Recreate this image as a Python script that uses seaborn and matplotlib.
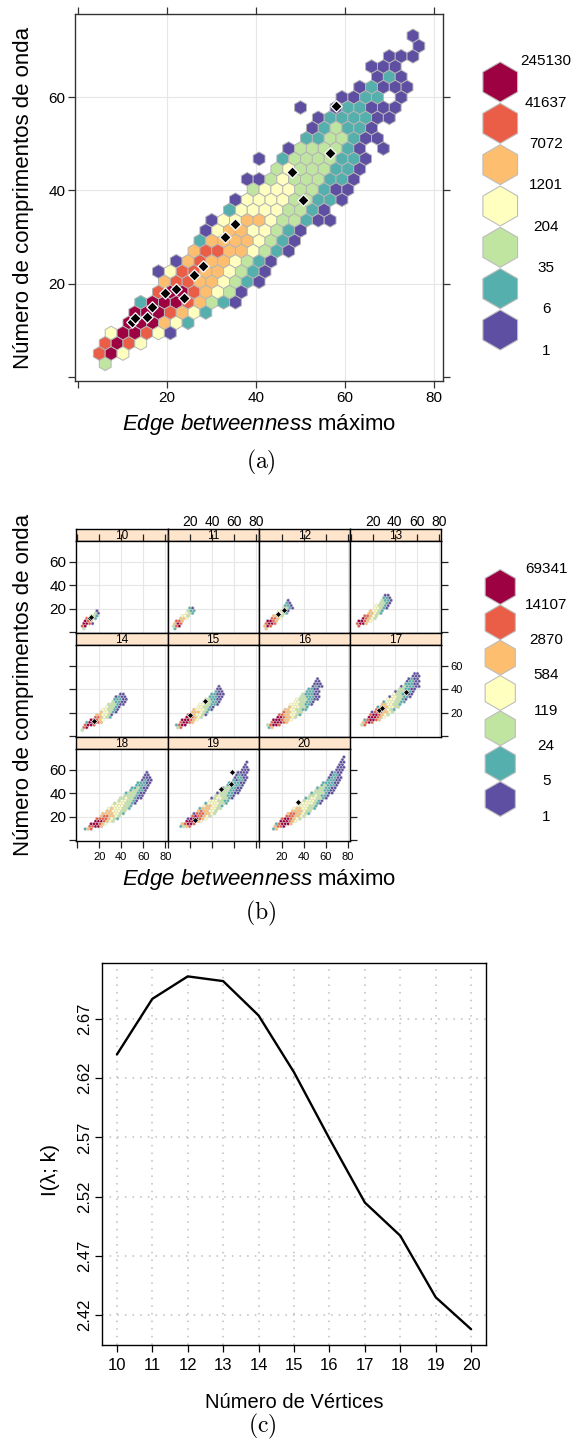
import numpy as np
import pandas as pd
import matplotlib
matplotlib.use("Agg")
import matplotlib.pyplot as plt
from matplotlib.colors import ListedColormap, BoundaryNorm
import seaborn as sns

sns.set_theme(style="white")
plt.rcParams['font.family'] = ['Liberation Sans', 'DejaVu Sans']
plt.rcParams['mathtext.fontset'] = 'custom'
plt.rcParams['mathtext.rm'] = 'Liberation Sans'
plt.rcParams['mathtext.it'] = 'Liberation Sans:italic'
for key in ('text.color', 'axes.labelcolor', 'xtick.color', 'ytick.color'):
    plt.rcParams[key] = 'black'

# ------------------------------------------------------------------ data
# count classes (1 = fewest ... 7 = most) and the class limits of each legend
legend_a = [1, 6, 35, 204, 1201, 7072, 41637, 245130]
legend_b = [1, 5, 24, 119, 584, 2870, 14107, 69341]
class_colors = ['#5E4FA2', '#55AFAD', '#BFE5A0', '#FFFFBF', '#FDBF6F', '#EA5D47', '#9E0142']

# hexagon lattice (data units): column step, row step, origin
HEX_X0, HEX_DX = 6.09, 2.66
HEX_Y0, HEX_DY = 2.89, 2.195

# all graphs: (row, first column, count class per cell; '.' = empty)
rows_all = [
    (0, 0, "3"), (1, 0, "674"), (2, 0, "6764"), (3, 1, "477641"),
    (4, 2, "777542"), (5, 3, "7776542"), (6, 3, "277765321"),
    (7, 5, "67765431"), (8, 5, "566554321"), (9, 5, "1466554321"),
    (10, 6, "156554321"), (11, 8, "566554321"), (12, 8, "255554321"),
    (13, 9, "145544321"), (14, 9, "14455433211"), (15, 11, "244443321"),
    (16, 11, "1444433221"), (17, 13, "344433211"), (18, 12, "1134333221"),
    (19, 15, "34333221"), (20, 13, "1.23333221"), (21, 16, "1333321.1"),
    (22, 17, "2233211"), (23, 18, "123221"), (24, 18, "1222211"),
    (25, 17, "1..122111"), (26, 20, "1122.1"), (27, 22, "12111"),
    (28, 23, "121"), (29, 23, "111"), (30, 24, "111"), (31, 27, "1"),
    (32, 26, "1"),
]

# one panel per number of vertices
rows_by_n = {
    10: [(0, 0, "3"), (1, 0, "67"), (2, 0, "7761"), (3, 1, "765"), (4, 1, "6542"),
         (5, 3, "432"), (6, 4, "31"), (7, 5, "1")],
    11: [(0, 0, "2"), (1, 0, "367"), (2, 0, "576"), (3, 1, "665"), (4, 2, "554"),
         (5, 3, "443"), (6, 4, "432"), (7, 5, "322"), (8, 5, "21")],
    12: [(0, 0, "5"), (1, 0, "576"), (2, 0, "6776"), (3, 1, "7765"), (4, 2, "6654"),
         (5, 3, "5543"), (6, 4, "4432"), (7, 5, "4331"), (8, 6, "3321"),
         (9, 7, "221"), (10, 7, "21"), (11, 8, "1")],
    13: [(1, 1, "6"), (2, 0, "6775"), (3, 1, "77654"), (4, 2, "76543"), (5, 3, "66543"),
         (6, 4, "55432"), (7, 5, "54432"), (8, 6, "44321"), (9, 7, "43321"),
         (10, 8, "3321"), (11, 9, "3221"), (12, 9, "221"), (13, 10, "11")],
    14: [(1, 0, "3"), (2, 0, "67"), (3, 1, "6776"), (4, 1, "277765"), (5, 3, "77654"),
         (6, 4, "665432"), (7, 5, "554431"), (8, 6, "544321"), (9, 7, "443321"),
         (10, 8, "43321"), (11, 9, "333211"), (12, 10, "32211"), (13, 11, "22211"),
         (14, 11, "1211"), (15, 13, "11")],
    15: [(2, 1, "36"), (3, 1, "2677"), (4, 2, "67765"), (5, 3, "777654"),
         (6, 4, "766543"), (7, 5, "6654431"), (8, 6, "555432"), (9, 7, "5444321"),
         (10, 8, "443321"), (11, 9, "4433221"), (12, 10, "333221"), (13, 11, "332211"),
         (14, 12, "22211"), (15, 13, "22111"), (16, 14, "211"), (17, 15, "11"),
         (18, 15, "1")],
    16: [(2, 1, "25"), (3, 1, "36776"), (4, 2, "677765"), (5, 3, "7776554"),
         (6, 4, "7765543"), (7, 5, "66554432"), (8, 6, "6554433"), (9, 7, "55443322"),
         (10, 8, "5444332"), (11, 9, "44433221"), (12, 10, "4433221"),
         (13, 11, "43332211"), (14, 12, "3322211"), (15, 13, "322211"),
         (16, 14, "22211"), (17, 15, "2211"), (18, 16, "1211"), (19, 17, "111"),
         (20, 17, "11"), (21, 18, "1")],
    17: [(3, 2, "36"), (4, 2, "5676"), (5, 3, "267765"), (6, 4, "777654"),
         (7, 5, "6776543"), (8, 5, "16665543"), (9, 7, "6655432"), (10, 7, "25554433"),
         (11, 9, "5544332"), (12, 9, "24443322"), (13, 11, "4443321"),
         (14, 11, "14433221"), (15, 13, "4332211"), (16, 13, "1333221"),
         (17, 15, "332211"), (18, 15, "1322211"), (19, 17, "22211"), (20, 17, "12211"),
         (21, 18, "1211"), (22, 19, "111"), (23, 20, "11")],
    18: [(3, 1, "256"), (4, 2, "66775"), (5, 3, "777654"), (6, 4, "7776543"),
         (7, 5, "66665432"), (8, 6, "5665543"), (9, 7, "55554432"), (10, 8, "5544433"),
         (11, 9, "45444332"), (12, 10, "4444332"), (13, 11, "34443321"),
         (14, 12, "3443321"), (15, 13, "33433211"), (16, 14, "3333211"),
         (17, 15, "2333211"), (18, 16, "233221"), (19, 17, "223211"), (20, 18, "22221"),
         (21, 19, "22211"), (22, 20, "1211"), (23, 21, "111"), (24, 21, "11"),
         (25, 22, "1")],
    19: [(4, 2, "2356"), (5, 3, "56776"), (6, 4, "777654"), (7, 5, "1777654"),
         (8, 6, "6766543"), (9, 7, "16665543"), (10, 8, "5655443"), (11, 9, "25554433"),
         (12, 10, "4554432"), (13, 11, "24444332"), (14, 12, "4443322"),
         (15, 13, "13443321"), (16, 14, "3433221"), (17, 15, "13332211"),
         (18, 16, "3332211"), (19, 17, "2332211"), (20, 18, "232221"), (21, 19, "222211"),
         (22, 20, "21221"), (23, 21, "12211"), (24, 21, "1211"), (25, 22, "1111"),
         (26, 23, "111"), (27, 24, "11"), (28, 24, "1"), (29, 25, "1")],
    20: [(3, 3, "25"), (4, 3, "5667"), (5, 4, "267775"), (6, 5, "777654"),
         (7, 6, "6776543"), (8, 7, "6665543"), (9, 8, "56655432"), (10, 9, "5555433"),
         (11, 10, "45544332"), (12, 11, "4444332"), (13, 12, "34444321"),
         (14, 13, "3444321"), (15, 14, "23443321"), (16, 15, "3343221"),
         (17, 16, "23333211"), (18, 17, "3332211"), (19, 18, "2332211"),
         (20, 19, "232221"), (21, 20, "222211"), (22, 21, "22211"), (23, 22, "12211"),
         (24, 22, "1221"), (25, 23, "1211"), (26, 24, "111"), (27, 25, "111"),
         (28, 25, "11"), (29, 26, "11"), (30, 26, "1"), (31, 27, "1")],
}

# highlighted graphs (black diamonds): vertex count, max edge betweenness, wavelengths
diam_n = [10, 10, 12, 12, 14, 15, 15, 17, 17, 17, 19, 19, 19, 19, 20]
diam_x = [12.15, 12.7, 16.5, 22.0, 15.4, 19.55, 33.1, 26.0, 28.1, 50.5, 23.9, 48.0, 56.6, 57.9, 35.2]
diam_y = [11.8, 12.7, 15.1, 18.9, 12.9, 18.1, 30.05, 21.9, 23.9, 38.0, 17.0, 44.0, 48.0, 58.1, 32.9]

# mutual information vs. number of vertices
vertices = [10, 11, 12, 13, 14, 15, 16, 17, 18, 19, 20]
info = [2.640, 2.687, 2.706, 2.702, 2.673, 2.625, 2.569, 2.515, 2.487, 2.435, 2.408]
yticks_c = [2.42, 2.47, 2.52, 2.57, 2.62, 2.67]

# ------------------------------------------------------------------ helpers
W, H = 582, 1448
fig = plt.figure(figsize=(W / 100, H / 100), dpi=100)

def px_axes(x0, y0, x1, y1):
    return fig.add_axes([x0 / W, 1 - y1 / H, (x1 - x0) / W, (y1 - y0) / H])

def cells(rows):
    recs = []
    for r, k0, s in rows:
        for j, ch in enumerate(s):
            if ch == '.':
                continue
            k = k0 + j
            recs.append((HEX_X0 + HEX_DX * (k - 0.5 * (r % 2)), HEX_Y0 + HEX_DY * r, int(ch)))
    return pd.DataFrame(recs, columns=['x', 'y', 'classe'])

cmap = ListedColormap(class_colors)
norm = BoundaryNorm(np.arange(0.5, 8.5, 1.0), cmap.N)
NX, NY = 30, 17

def draw_hex(ax, df, lw, ec):
    ax.hexbin(df['x'], df['y'], C=df['classe'], gridsize=(NX, NY),
              extent=(HEX_X0 - HEX_DX, HEX_X0 - HEX_DX + NX * HEX_DX,
                      HEX_Y0, HEX_Y0 + NY * 2 * HEX_DY),
              reduce_C_function=np.max, cmap=cmap, norm=norm,
              edgecolors=ec, linewidths=lw, mincnt=1, zorder=2)

def frame(ax, color='#1a1a1a', lw=1.0):
    for sp in ax.spines.values():
        sp.set_visible(True)
        sp.set_color(color)
        sp.set_linewidth(lw)

def lattice_grid(ax):
    for v in (20, 40, 60, 80):
        ax.axvline(v, color='#E6E6E6', lw=0.8, zorder=0.5)
    for v in (20, 40, 60):
        ax.axhline(v, color='#E6E6E6', lw=0.8, zorder=0.5)

XLIM, YLIM = (-0.7, 82.0), (-0.8, 77.8)
XT, XTL = [0, 20, 40, 60, 80], ['', '20', '40', '60', '80']
YT, YTL = [0, 20, 40, 60], ['', '20', '40', '60']

def hex_legend(x0, y0, x1, y1, limits, size):
    lax = px_axes(x0, y0, x1, y1)
    lax.set_axis_off()
    n = len(class_colors)
    sns.scatterplot(x=[0.27] * n, y=list(range(n)), hue=list(range(n)),
                    palette=class_colors, marker='h', s=size, edgecolor='#BDBDBD',
                    linewidth=0.8, legend=False, ax=lax)
    for i, v in enumerate(limits):
        lax.text(0.68, i - 0.5, str(v), ha='center', va='center', fontsize=11)
    lax.set_xlim(0, 1)
    lax.set_ylim(-1, n)
    return lax

# ------------------------------------------------------------------ (a)
axA = px_axes(75, 14, 443, 381)
lattice_grid(axA)
draw_hex(axA, cells(rows_all), lw=0.7, ec='#B5B5B5')
sns.scatterplot(x=diam_x, y=diam_y, marker='D', s=34, color='black',
                edgecolor='white', linewidth=0.9, ax=axA, legend=False, zorder=5)
axA.set_xlim(*XLIM)
axA.set_ylim(*YLIM)
axA.set_xticks(XT, XTL)
axA.set_yticks(YT, YTL)
axA.set_xlabel('')
axA.set_ylabel('')
frame(axA, '#333333', 1.0)
axA.tick_params(direction='out', length=5, width=0.9, color='#333333',
                top=True, right=True, bottom=True, left=True,
                labelsize=11, pad=2)
fig.text(259 / W, 1 - 425 / H, r'$\mathit{Edge\ betweenness}$ máximo',
         ha='center', va='center', fontsize=16)
fig.text(24 / W, 1 - 198 / H, 'Número de comprimentos de onda', rotation=90,
         ha='center', va='center', fontsize=16)
fig.text(261 / W, 1 - 462 / H, r'$\mathrm{(a)}$', math_fontfamily='cm',
         ha='center', va='center', fontsize=17)
hex_legend(470, 40.7, 582, 371.3, legend_a, 830)

# ------------------------------------------------------------------ (b)
FX0, FW = 76.3, 91.2
FY0, FH, STRIP = 529, 104, 12
facet_ids = sorted(rows_by_n)
dn = np.array(diam_n)
for i, n in enumerate(facet_ids):
    row, col = divmod(i, 4)
    x0 = FX0 + col * FW
    x1 = x0 + FW
    y0 = FY0 + row * FH
    sax = px_axes(x0, y0, x1, y0 + STRIP)
    sax.set_facecolor('#FFE5CC')
    sax.set_xticks([])
    sax.set_yticks([])
    frame(sax, 'black', 1.0)
    sax.text(0.5, 0.45, str(n), ha='center', va='center', fontsize=8.5,
             transform=sax.transAxes)

    ax = px_axes(x0, y0 + STRIP, x1, y0 + FH)
    lattice_grid(ax)
    draw_hex(ax, cells(rows_by_n[n]), lw=0.3, ec='#D0D0D0')
    sel = dn == n
    if sel.any():
        sns.scatterplot(x=np.array(diam_x)[sel], y=np.array(diam_y)[sel], marker='D',
                        s=9, color='black', edgecolor='white', linewidth=0.4,
                        ax=ax, legend=False, zorder=5)
    ax.set_xlim(*XLIM)
    ax.set_ylim(*YLIM)
    ax.set_xticks(XT, XTL)
    ax.set_yticks(YT, YTL)
    ax.set_xlabel('')
    ax.set_ylabel('')
    frame(ax, 'black', 1.0)
    top = row == 0
    bottom = row == 2
    left = col == 0
    right = col == 3 or i == len(facet_ids) - 1
    ax.tick_params(direction='out', length=5, width=0.9, color='#222222',
                   top=top, bottom=bottom, left=left, right=right,
                   labeltop=top and col % 2 == 1,
                   labelbottom=bottom and col % 2 == 0,
                   labelleft=left and row % 2 == 0,
                   labelright=right and row % 2 == 1, pad=2)
    ax.tick_params(axis='x', labelsize=10 if top else 8, pad=4 if top else 3)
    ax.tick_params(axis='y', labelsize=11 if left else 8)

fig.text(259 / W, 1 - 880 / H, r'$\mathit{Edge\ betweenness}$ máximo',
         ha='center', va='center', fontsize=16)
fig.text(24 / W, 1 - 685 / H, 'Número de comprimentos de onda', rotation=90,
         ha='center', va='center', fontsize=16)
fig.text(261 / W, 1 - 913 / H, r'$\mathrm{(b)}$', math_fontfamily='cm',
         ha='center', va='center', fontsize=17)
hex_legend(470, 551.7, 582, 834.3, legend_b, 630)

# ------------------------------------------------------------------ (c)
axC = px_axes(102, 963, 486, 1345)
for v in vertices:
    axC.axvline(v, color='#BDBDBD', lw=1.1, ls=(0, (1, 4)), zorder=0.5)
for v in yticks_c:
    axC.axhline(v, color='#BDBDBD', lw=1.1, ls=(0, (1, 4)), zorder=0.5)
sns.lineplot(x=vertices, y=info, color='black', lw=1.7, ax=axC)
axC.set_xlim(9.58, 20.42)
axC.set_ylim(2.3947, 2.7173)
axC.set_xticks(vertices, [str(v) for v in vertices])
axC.set_yticks(yticks_c, [f'{v:.2f}' for v in yticks_c])
for lab in axC.get_yticklabels():
    lab.set_rotation(90)
    lab.set_va('center')
axC.set_xlabel('')
axC.set_ylabel('')
frame(axC, 'black', 1.0)
axC.tick_params(direction='out', length=5, width=0.9, color='black',
                bottom=True, left=True, labelsize=12)
axC.tick_params(axis='x', pad=4)
axC.tick_params(axis='y', pad=2)
fig.text(294 / W, 1 - 1402 / H, 'Número de Vértices', ha='center', va='center',
         fontsize=14.5)
fig.text(51 / W, 1 - 1170 / H, 'I(λ; k)', rotation=90, ha='center', va='center',
         fontsize=15)
fig.text(262 / W, 1 - 1426 / H, r'$\mathrm{(c)}$', math_fontfamily='cm',
         ha='center', va='center', fontsize=17)

fig.savefig('out.png', dpi=100)
